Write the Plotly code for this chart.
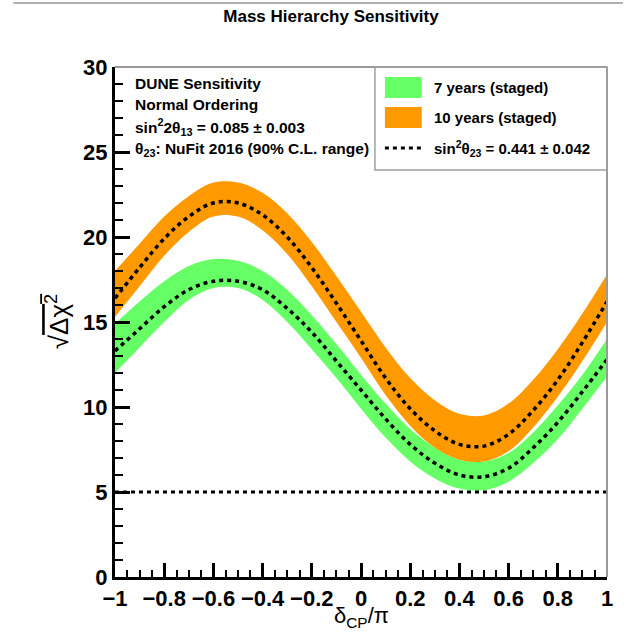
import plotly.graph_objects as go

# ---------------- data ----------------
delta_cp = [-1.0, -0.9, -0.8, -0.7, -0.6, -0.5, -0.4, -0.3, -0.2, -0.1, 0.0,
            0.1, 0.2, 0.3, 0.4, 0.5, 0.6, 0.7, 0.8, 0.9, 1.0]

ten_center = [16.4, 18.2, 19.9, 21.2, 22.0, 22.0, 21.3, 20.0, 18.2, 16.1, 13.9,
              11.7, 9.9, 8.6, 7.8, 7.7, 8.4, 9.8, 11.6, 13.8, 16.2]
ten_upper = [18.0, 19.6, 21.2, 22.4, 23.2, 23.2, 22.6, 21.4, 19.7, 17.7, 15.6,
             13.5, 11.7, 10.4, 9.6, 9.5, 10.2, 11.6, 13.4, 15.5, 17.8]
ten_lower = [15.3, 17.1, 18.9, 20.3, 21.2, 21.2, 20.4, 19.0, 17.1, 15.0, 12.9,
             10.7, 8.9, 7.6, 6.9, 6.8, 7.4, 8.8, 10.6, 12.7, 15.0]

seven_center = [13.3, 14.6, 15.9, 16.9, 17.4, 17.4, 16.9, 15.8, 14.4, 12.7, 11.0,
                9.3, 7.8, 6.7, 6.0, 5.9, 6.4, 7.6, 9.1, 10.9, 12.8]
seven_upper = [14.9, 16.2, 17.4, 18.3, 18.7, 18.6, 18.0, 16.9, 15.4, 13.7, 11.9,
               10.2, 8.7, 7.6, 6.9, 6.8, 7.3, 8.5, 10.1, 11.9, 14.0]
seven_lower = [12.0, 13.5, 15.0, 16.3, 17.0, 17.0, 16.3, 15.0, 13.4, 11.7, 9.9,
               8.2, 6.8, 5.8, 5.2, 5.1, 5.6, 6.7, 8.1, 9.9, 11.8]

threshold_x = [-1.0, 1.0]
threshold_y = [5.0, 5.0]

x_tickvals = [-1, -0.8, -0.6, -0.4, -0.2, 0, 0.2, 0.4, 0.6, 0.8, 1]
x_ticktext = ["\u22121", "\u22120.8", "\u22120.6", "\u22120.4", "\u22120.2", "0",
              "0.2", "0.4", "0.6", "0.8", "1"]
y_tickvals = [0, 5, 10, 15, 20, 25, 30]

info_lines = ["DUNE Sensitivity", "Normal Ordering",
              "sin<sup>2</sup>2\u03b8<sub>13</sub> = 0.085 \u00b1 0.003",
              "\u03b8<sub>23</sub>: NuFit 2016 (90% C.L. range)"]
legend_labels = ["7 years (staged)", "10 years (staged)",
                 "sin<sup>2</sup>\u03b8<sub>23</sub> = 0.441 \u00b1 0.042"]

GREEN = "#66ff66"
ORANGE = "#ff9900"
FONT = "Liberation Sans, Arial, Helvetica, sans-serif"

# ---------------- geometry helpers (pixels -> paper) ----------------
W, H = 625, 632
L, R, T, B = 115, 609, 67, 577


def px(xp):
    return (xp - L) / (R - L)


def py(yp):
    return (B - yp) / (B - T)


fig = go.Figure()

# 7 years band
fig.add_trace(go.Scatter(x=delta_cp, y=seven_lower, mode="lines",
                         line=dict(width=0, shape="spline", color=GREEN),
                         hoverinfo="skip", showlegend=False))
fig.add_trace(go.Scatter(x=delta_cp, y=seven_upper, mode="lines",
                         line=dict(width=0, shape="spline", color=GREEN),
                         fill="tonexty", fillcolor=GREEN, showlegend=False))
# 10 years band
fig.add_trace(go.Scatter(x=delta_cp, y=ten_lower, mode="lines",
                         line=dict(width=0, shape="spline", color=ORANGE),
                         hoverinfo="skip", showlegend=False))
fig.add_trace(go.Scatter(x=delta_cp, y=ten_upper, mode="lines",
                         line=dict(width=0, shape="spline", color=ORANGE),
                         fill="tonexty", fillcolor=ORANGE, showlegend=False))
# central dotted curves
for yy in (seven_center, ten_center):
    fig.add_trace(go.Scatter(x=delta_cp, y=yy, mode="lines",
                             line=dict(width=3.5, shape="spline", color="black",
                                       dash="4px,4px"),
                             showlegend=False))
# 5 sigma line
fig.add_trace(go.Scatter(x=threshold_x, y=threshold_y, mode="lines",
                         line=dict(width=3, color="black", dash="4px,4px"),
                         showlegend=False))

axis_common = dict(showgrid=False, zeroline=False, showline=True, linewidth=3,
                   linecolor="black", ticks="inside", tickcolor="black",
                   tickwidth=2.5,
                   tickfont=dict(family=FONT, size=22, color="black", weight="bold"))

fig.update_xaxes(range=[-1, 1], tickvals=x_tickvals, ticktext=x_ticktext,
                 ticklen=14,
                 minor=dict(dtick=0.05, ticks="inside", ticklen=7, tickwidth=2,
                            tickcolor="black", showgrid=False),
                 **axis_common)
fig.update_yaxes(range=[0, 30], tickvals=y_tickvals, ticklen=15,
                 minor=dict(dtick=1, ticks="inside", ticklen=8, tickwidth=2,
                            tickcolor="black", showgrid=False),
                 **axis_common)

shapes = []
# grey frame (top / right)
shapes.append(dict(type="line", xref="paper", yref="paper", x0=0, x1=1, y0=1, y1=1,
                   line=dict(color="#999999", width=2)))
shapes.append(dict(type="line", xref="paper", yref="paper", x0=1, x1=1, y0=0, y1=1,
                   line=dict(color="#999999", width=2)))
# legend box
shapes.append(dict(type="rect", xref="paper", yref="paper",
                   x0=px(376), x1=1, y0=py(170), y1=1,
                   line=dict(color="#a0a0a0", width=1.5), fillcolor="rgba(0,0,0,0)"))
# legend swatches
shapes.append(dict(type="rect", xref="paper", yref="paper",
                   x0=px(386), x1=px(423), y0=py(98), y1=py(77),
                   line=dict(width=0), fillcolor=GREEN))
shapes.append(dict(type="rect", xref="paper", yref="paper",
                   x0=px(386), x1=px(423), y0=py(128), y1=py(107),
                   line=dict(width=0), fillcolor=ORANGE))
shapes.append(dict(type="line", xref="paper", yref="paper",
                   x0=px(386), x1=px(424), y0=py(148), y1=py(148),
                   line=dict(color="black", width=3, dash="4px,4px")))
# screenshot border line at top
shapes.append(dict(type="line", xref="paper", yref="paper",
                   x0=px(13), x1=px(625), y0=py(3), y1=py(3),
                   line=dict(color="#b0b0b0", width=2)))

annotations = []
for txt, yp in zip(info_lines, [83, 105, 127, 149]):
    annotations.append(dict(text=txt, xref="paper", yref="paper", x=px(133), y=py(yp),
                            xanchor="left", yanchor="middle", showarrow=False,
                            font=dict(family=FONT, size=15.5, color="black", weight="bold")))
for txt, yp in zip(legend_labels, [88, 118, 148]):
    annotations.append(dict(text=txt, xref="paper", yref="paper", x=px(433), y=py(yp),
                            xanchor="left", yanchor="middle", showarrow=False,
                            font=dict(family=FONT, size=15, color="black", weight="bold")))
# axis titles
annotations.append(dict(text="\u03b4<sub>CP</sub>/\u03c0", xref="paper", yref="paper",
                        x=px(362), y=py(617), xanchor="center", yanchor="middle",
                        showarrow=False,
                        font=dict(family=FONT, size=22, color="black")))
annotations.append(dict(text="\u221a<span style='text-decoration:overline'>\u0394\u03c7<sup>2</sup></span>",
                        xref="paper", yref="paper",
                        x=px(57), y=py(322), xanchor="center", yanchor="middle",
                        textangle=-90, showarrow=False,
                        font=dict(family=FONT, size=26, color="black")))

fig.update_layout(
    width=W, height=H,
    margin=dict(l=L, r=W - R, t=T, b=H - B),
    plot_bgcolor="white", paper_bgcolor="white",
    title=dict(text="Mass Hierarchy Sensitivity", x=331 / W, y=1 - 16 / H,
               xanchor="center", yanchor="middle",
               font=dict(family=FONT, size=17, color="black", weight="bold")),
    shapes=shapes, annotations=annotations, showlegend=False,
)

fig.write_html("out.html")
